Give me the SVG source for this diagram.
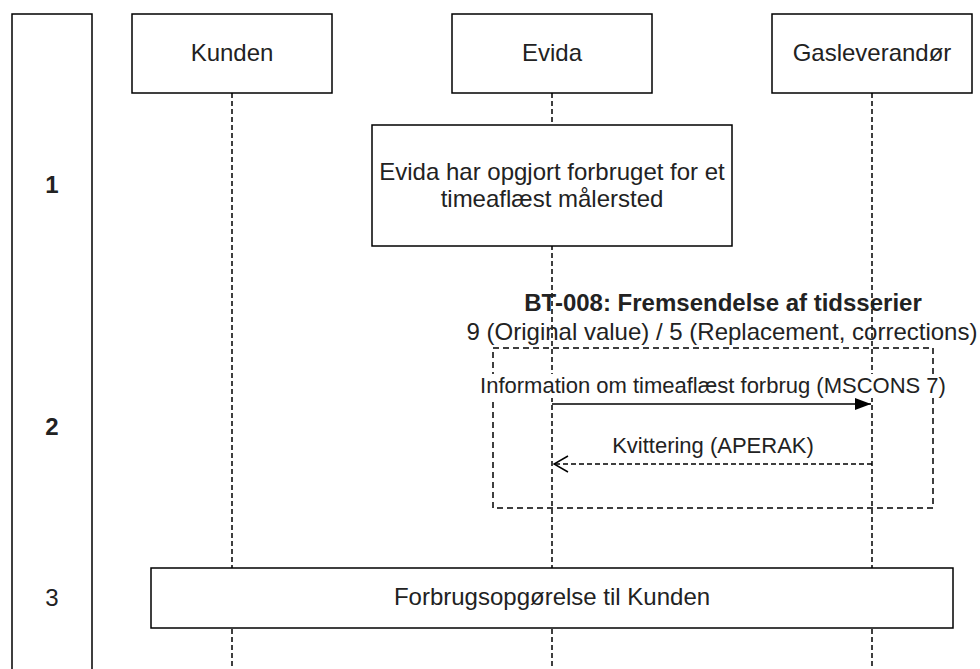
<svg xmlns="http://www.w3.org/2000/svg" width="980" height="669" viewBox="0 0 980 669">
<defs>
<style>
.box{fill:#fff;stroke:#000;stroke-width:1.5}
.life{stroke:#000;stroke-width:1.5;stroke-dasharray:5 3;fill:none}
.frame{fill:none;stroke:#000;stroke-width:1.5;stroke-dasharray:6 4}
.t{font-family:"Liberation Sans",Arial,sans-serif;font-size:24px;fill:#222;text-anchor:middle}
.lbl{font-family:"Liberation Sans",Arial,sans-serif;font-size:22px;fill:#222;text-anchor:middle}
.b{font-weight:bold}
</style>
<marker id="block" viewBox="0 0 16 12" refX="16" refY="6" markerWidth="16" markerHeight="12" markerUnits="userSpaceOnUse" orient="auto">
<path d="M0,0 L16,6 L0,12 Z" fill="#000"/>
</marker>
<marker id="open" viewBox="0 0 16 18" refX="15" refY="9" markerWidth="16" markerHeight="18" markerUnits="userSpaceOnUse" orient="auto">
<path d="M1,1 L15,9 L1,17" fill="none" stroke="#000" stroke-width="1.5"/>
</marker>
</defs>
<rect width="980" height="669" fill="#fff"/>

<g id="phases">
<path d="M12,680 L12,14 L92,14 L92,680" fill="none" stroke="#000" stroke-width="1.5"/>
<text class="t b" x="52" y="193">1</text>
<text class="t b" x="52" y="435">2</text>
<text class="t" x="52" y="606">3</text>
</g>

<g id="lifelines">
<line class="life" x1="232" y1="93" x2="232" y2="669"/>
<line class="life" x1="552" y1="93" x2="552" y2="669"/>
<line class="life" x1="872" y1="93" x2="872" y2="669"/>
</g>

<g id="kunden">
<rect class="box" x="132" y="14" width="200" height="79"/>
<text class="t" x="232" y="61">Kunden</text>
</g>
<g id="evida">
<rect class="box" x="452" y="14" width="200" height="79"/>
<text class="t" x="552" y="61">Evida</text>
</g>
<g id="gasleverandor">
<rect class="box" x="772" y="14" width="200" height="79"/>
<text class="t" x="872" y="61">Gasleverandør</text>
</g>

<g id="note1">
<rect class="box" x="372" y="125" width="360" height="121"/>
<text class="t" x="552" y="180">Evida har opgjort forbruget for et</text>
<text class="t" x="552" y="207">timeaflæst målersted</text>
</g>

<g id="bt008">
<rect class="frame" x="493" y="348" width="440" height="160"/>
<text class="t b" x="723" y="311">BT-008: Fremsendelse af tidsserier</text>
<text class="t" x="722" y="340">9 (Original value) / 5 (Replacement, corrections)</text>
</g>

<g id="connectors">
<line x1="552" y1="404" x2="871" y2="404" stroke="#000" stroke-width="1.5" marker-end="url(#block)"/>
<rect x="480" y="374" width="466" height="24" fill="#fff"/>
<text class="lbl" x="713" y="393">Information om timeaflæst forbrug (MSCONS 7)</text>
<line x1="872" y1="464" x2="554" y2="464" stroke="#000" stroke-width="1.5" stroke-dasharray="5 3" marker-end="url(#open)"/>
<text class="lbl" x="713" y="453">Kvittering (APERAK)</text>
</g>

<g id="step3">
<rect class="box" x="151" y="568" width="802" height="60"/>
<text class="t" x="552" y="605">Forbrugsopgørelse til Kunden</text>
</g>
</svg>
